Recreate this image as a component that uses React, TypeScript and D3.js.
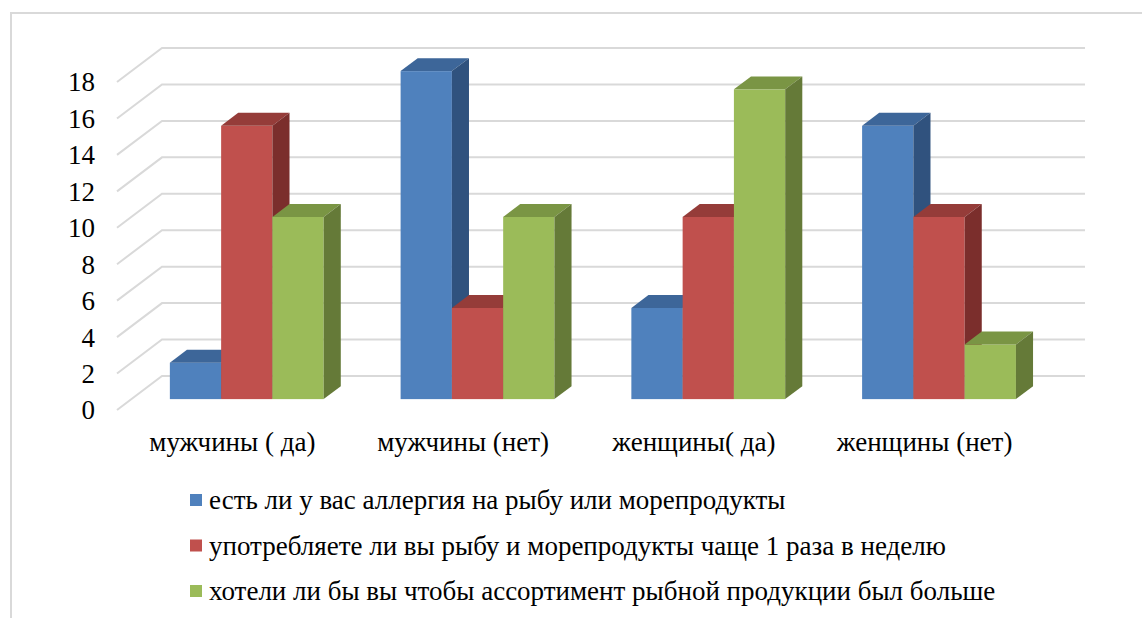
import { useEffect, useRef } from 'react';
import * as d3 from 'd3';

const categories = ['мужчины ( да)', 'мужчины (нет)', 'женщины( да)', 'женщины (нет)'];
const seriesNames = [
  'есть ли у вас аллергия на рыбу или морепродукты',
  'употребляете ли вы рыбу и морепродукты чаще 1 раза в неделю',
  'хотели ли бы вы чтобы ассортимент рыбной продукции был больше',
];
const allergy = [2, 18, 5, 15];
const fishWeekly = [15, 5, 10, 10];
const widerRange = [10, 10, 17, 3];
const yTicks = [0, 2, 4, 6, 8, 10, 12, 14, 16, 18];

// front, top, side shades per series
const palette = [
  { front: '#4f81bd', top: '#3d6699', side: '#30527e' },
  { front: '#c0504d', top: '#953c39', side: '#7b2e2c' },
  { front: '#9bbb59', top: '#7a9544', side: '#657a38' },
];

export default function App() {
  const svgRef = useRef<SVGSVGElement>(null);

  useEffect(() => {
    if (!svgRef.current) return;
    const W = 1142;
    const H = 618;
    const svg = d3.select(svgRef.current);
    svg.selectAll('*').remove();
    svg.attr('width', W).attr('height', H);

    const grid = '#d9d9d9';

    // outer frame (right and bottom edges fall outside the picture)
    svg.append('path')
      .attr('d', `M11,${H} L11,13 L${W},13`)
      .attr('fill', 'none')
      .attr('stroke', grid)
      .attr('stroke-width', 2);

    // oblique depth of the floor
    const depthX = 45;
    const depthY = 34;
    const barFront = 0.32; // fraction of depth where bars start
    const barDepth = 0.38;

    const left = 117;
    const right = 1040;
    const x0 = d3.scaleBand<string>().domain(categories).range([left, right]).padding(0);
    const keys = ['a', 'b', 'c'];
    const x1 = d3.scaleBand<string>().domain(keys).range([0, x0.bandwidth()])
      .paddingInner(0).paddingOuter(0.75);
    const y = d3.scaleLinear().domain([0, 18]).range([410, 82]);

    // gridlines: diagonal on the side wall + horizontal on the back wall
    const gg = svg.append('g');
    yTicks.forEach((t) => {
      const yf = y(t);
      gg.append('path')
        .attr('d', `M${left},${yf} L${left + depthX},${yf - depthY} L${right + depthX},${yf - depthY}`)
        .attr('fill', 'none')
        .attr('stroke', grid)
        .attr('stroke-width', 2);
    });

    // y tick labels
    svg.append('g')
      .selectAll('text')
      .data(yTicks)
      .join('text')
      .attr('x', 95)
      .attr('y', (d) => y(d))
      .attr('dy', '0.35em')
      .attr('text-anchor', 'end')
      .attr('fill', '#000')
      .text((d) => d);

    // bars
    const values = [allergy, fishWeekly, widerRange];
    const offX = barFront * depthX;
    const offY = barFront * depthY;
    const dx = barDepth * depthX;
    const dy = barDepth * depthY;
    const bars = svg.append('g');
    categories.forEach((cat, ci) => {
      values.forEach((series, si) => {
        const v = series[ci];
        const x = x0(cat)! + x1(keys[si])! + offX;
        const w = x1.bandwidth();
        const yb = y(0) - offY;
        const yt = y(v) - offY;
        const c = palette[si];
        bars.append('rect')
          .attr('x', x).attr('y', yt)
          .attr('width', w).attr('height', yb - yt)
          .attr('fill', c.front);
        bars.append('path')
          .attr('d', `M${x},${yt} L${x + w},${yt} L${x + w + dx},${yt - dy} L${x + dx},${yt - dy} Z`)
          .attr('fill', c.top);
        bars.append('path')
          .attr('d', `M${x + w},${yt} L${x + w + dx},${yt - dy} L${x + w + dx},${yb - dy} L${x + w},${yb} Z`)
          .attr('fill', c.side);
      });
    });

    // category labels
    svg.append('g')
      .selectAll('text')
      .data(categories)
      .join('text')
      .attr('x', (d) => x0(d)! + x0.bandwidth() / 2)
      .attr('y', 451)
      .attr('text-anchor', 'middle')
      .attr('fill', '#000')
      .text((d) => d);

    // legend
    const lg = svg.append('g');
    seriesNames.forEach((name, i) => {
      const cy = 500 + i * 45.5;
      lg.append('rect')
        .attr('x', 190).attr('y', cy - 6)
        .attr('width', 12).attr('height', 12)
        .attr('fill', palette[i].front);
      lg.append('text')
        .attr('x', 209).attr('y', cy)
        .attr('dy', '0.35em')
        .attr('fill', '#000')
        .text(name);
    });
  }, []);

  return (
    <div style={{ position: 'absolute', left: 0, top: 0, background: '#fff' }}>
      <svg
        ref={svgRef}
        style={{ display: 'block', fontFamily: "'Liberation Serif', 'DejaVu Serif', serif", fontSize: '27px' }}
      />
    </div>
  );
}
